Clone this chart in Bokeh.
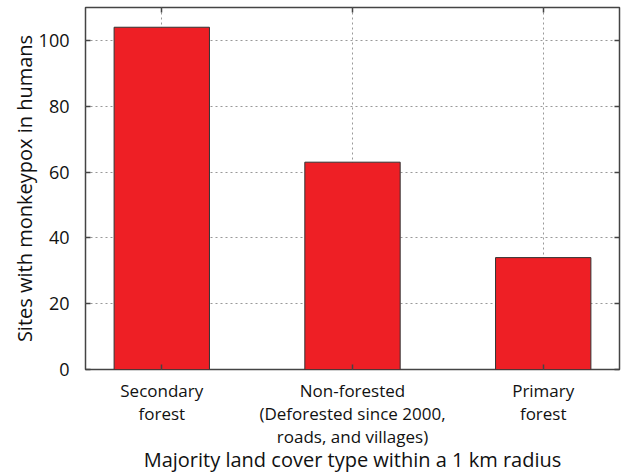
from bokeh.plotting import figure
from bokeh.models import Range1d, FixedTicker, LinearAxis
from bokeh.embed import file_html
from bokeh.resources import INLINE

categories = ["Secondary\nforest",
              "Non-forested\n(Deforested since 2000,\nroads, and villages)",
              "Primary\nforest"]
sites = [104, 63, 34]
y_ticks = [0, 20, 40, 60, 80, 100]
x_title = "Majority land cover type within a 1 km radius"
y_title = "Sites with monkeypox in humans"

xs = list(range(1, len(categories) + 1))

FONT = "Open Sans"

p = figure(width=638, height=476,
           x_range=Range1d(0.6, 3.4), y_range=Range1d(0, 110),
           output_backend="svg", toolbar_location=None,
           min_border_left=85, min_border_right=19, min_border_top=7, min_border_bottom=107)

p.vbar(x=xs, top=sites, width=0.5, fill_color="#ee1f25", line_color="#333333", line_width=1)

p.outline_line_color = "#444444"
p.outline_line_width = 1.5
p.background_fill_color = "white"
p.border_fill_color = "white"

for g in (p.xgrid, p.ygrid):
    g.grid_line_color = "#999999"
    g.grid_line_dash = "2 3"
    g.grid_line_width = 1

p.xaxis.ticker = FixedTicker(ticks=xs)
p.xaxis.major_label_overrides = {x: c for x, c in zip(xs, categories)}
p.yaxis.ticker = FixedTicker(ticks=y_ticks)

for ax in (p.xaxis[0], p.yaxis[0]):
    ax.axis_line_color = None
    ax.major_tick_in = 5
    ax.major_tick_out = 0
    ax.major_tick_line_color = "#444444"
    ax.major_tick_line_width = 1.5
    ax.minor_tick_line_color = None
    ax.major_label_text_font = FONT
    ax.major_label_text_font_size = "17px"
    ax.major_label_text_color = "#111111"
    ax.axis_label_text_font = FONT
    ax.axis_label_text_font_style = "normal"
    ax.axis_label_text_color = "#111111"

p.xaxis.major_label_standoff = 9
p.xaxis.major_label_text_line_height = 1.0
p.xaxis.axis_label = x_title
p.xaxis.axis_label_text_font_size = "20px"
p.xaxis.axis_label_standoff = -5

p.yaxis.major_label_text_font_size = "18px"
p.yaxis.major_label_standoff = 16
p.yaxis.axis_label = y_title
p.yaxis.axis_label_text_font_size = "20px"
p.yaxis.axis_label_standoff = -2

# mirrored tick axes
top = LinearAxis(ticker=FixedTicker(ticks=xs), major_label_text_font_size="0px",
                 axis_line_color=None, major_tick_in=5, major_tick_out=0,
                 major_tick_line_color="#444444", major_tick_line_width=1.5,
                 minor_tick_line_color=None, major_label_standoff=0)
right = LinearAxis(ticker=FixedTicker(ticks=y_ticks), major_label_text_font_size="0px",
                   axis_line_color=None, major_tick_in=5, major_tick_out=0,
                   major_tick_line_color="#444444", major_tick_line_width=1.5,
                   minor_tick_line_color=None, major_label_standoff=0)
top.major_label_overrides = {x: "" for x in xs}
right.major_label_overrides = {t: "" for t in y_ticks}
p.add_layout(top, "above")
p.add_layout(right, "right")

open("out.html", "w").write(file_html(p, INLINE))
